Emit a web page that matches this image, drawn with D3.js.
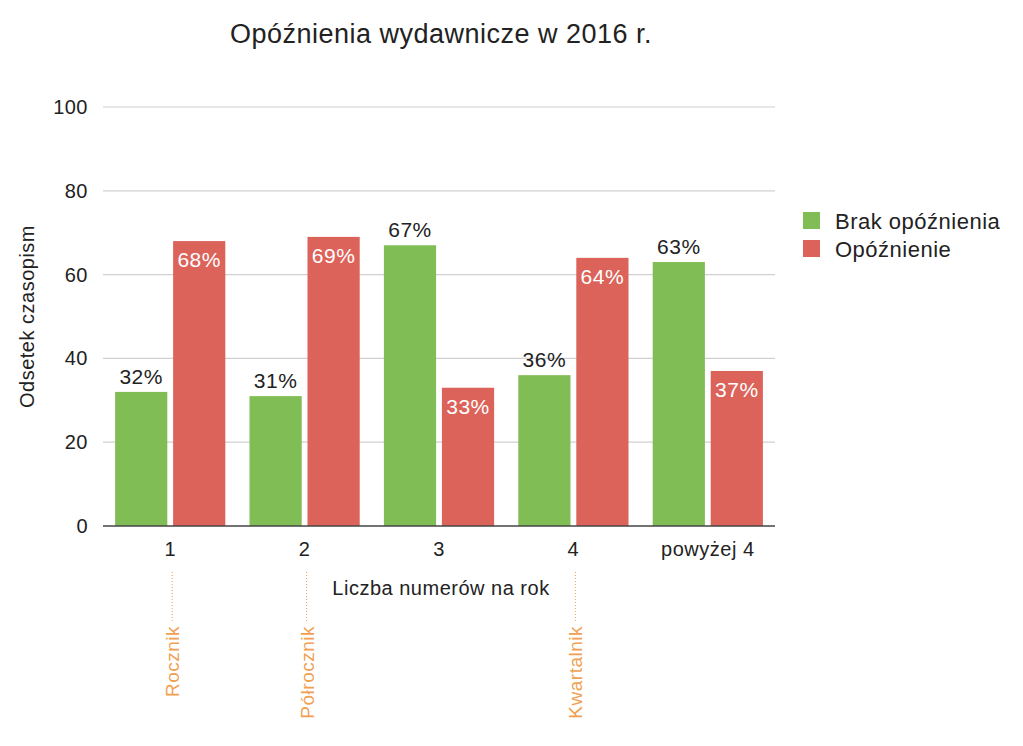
<!DOCTYPE html>
<html>
<head>
<meta charset="UTF-8">
<title>Opóźnienia wydawnicze w 2016 r.</title>
<script src="https://d3js.org/d3.v7.min.js"></script>
<style>
  body { margin: 0; background: #fff; }
  text { font-family: "Liberation Sans", Arial, sans-serif; fill: #222; letter-spacing: 0.5px; }
  .grid line { stroke: #d0d0d0; stroke-width: 1.2px; }
  .note { fill: #f0a050; }
</style>
</head>
<body>
<div id="chart"></div>
<script>
// dane
const categories = ["1", "2", "3", "4", "powyżej 4"];
const seriesNames = ["Brak opóźnienia", "Opóźnienie"];
const brakOpoznienia = [32, 31, 67, 36, 63];
const opoznienie = [68, 69, 33, 64, 37];
const yTicks = [0, 20, 40, 60, 80, 100];
const notes = [{ cat: "1", text: "Rocznik" }, { cat: "2", text: "Półrocznik" }, { cat: "4", text: "Kwartalnik" }];

const colors = ["#80bd54", "#dc635a"];
const W = 1023, H = 746;
const margin = { top: 107, left: 103, right: 248, bottom: 220 };
const width = W - margin.left - margin.right,
      height = H - margin.top - margin.bottom;

const svg = d3.select("#chart").append("svg")
  .attr("width", W).attr("height", H);

const g = svg.append("g")
  .attr("transform", "translate(" + margin.left + "," + margin.top + ")");

const x0 = d3.scaleBand().domain(categories).range([0, width]).paddingInner(0.18).paddingOuter(0.09);
const x1 = d3.scaleBand().domain(seriesNames).range([0, x0.bandwidth()]).paddingInner(0.1);
const y = d3.scaleLinear().domain([0, 100]).range([height, 0]);

// siatka
g.append("g").attr("class", "grid")
  .selectAll("line").data(yTicks.filter(d => d > 0)).enter().append("line")
  .attr("x1", 0).attr("x2", width)
  .attr("y1", d => y(d)).attr("y2", d => y(d));

g.selectAll(".ytick").data(yTicks).enter().append("text")
  .attr("x", -15).attr("y", d => y(d)).attr("dy", "0.35em")
  .style("text-anchor", "end").style("font-size", "20px")
  .text(d => d);

const data = categories.map((c, i) => ({ cat: c, values: [brakOpoznienia[i], opoznienie[i]] }));

const groups = g.selectAll(".grp").data(data).enter().append("g")
  .attr("transform", d => "translate(" + x0(d.cat) + ",0)");

groups.selectAll("rect").data(d => d.values.map((v, j) => ({ s: seriesNames[j], v: v, j: j })))
  .enter().append("rect")
  .attr("x", d => x1(d.s)).attr("width", x1.bandwidth())
  .attr("y", d => y(d.v)).attr("height", d => height - y(d.v))
  .style("fill", d => colors[d.j]);

groups.selectAll(".lbl").data(d => d.values.map((v, j) => ({ s: seriesNames[j], v: v, j: j })))
  .enter().append("text")
  .attr("x", d => x1(d.s) + x1.bandwidth() / 2)
  .attr("y", d => d.j === 0 ? y(d.v) - 8 : y(d.v) + 26)
  .style("text-anchor", "middle").style("font-size", "21px")
  .style("fill", d => d.j === 0 ? "#222" : "#fff")
  .text(d => d.v + "%");

// os x
g.append("line").attr("x1", 0).attr("x2", width).attr("y1", height).attr("y2", height)
  .style("stroke", "#444").style("stroke-width", 1.5);

g.selectAll(".xtick").data(categories).enter().append("text")
  .attr("x", d => x0(d) + x0.bandwidth() / 2).attr("y", height + 30)
  .style("text-anchor", "middle").style("font-size", "20px")
  .text(d => d);

g.append("text").attr("x", width / 2 + 2).attr("y", height + 69)
  .style("text-anchor", "middle").style("font-size", "20px")
  .text("Liczba numerów na rok");

svg.append("text")
  .attr("transform", "translate(34," + (margin.top + height / 2) + ") rotate(-90)")
  .style("text-anchor", "middle").style("font-size", "20px")
  .text("Odsetek czasopism");

svg.append("text").attr("x", 441).attr("y", 43)
  .style("text-anchor", "middle").style("font-size", "27px")
  .text("Opóźnienia wydawnicze w 2016 r.");

// legenda
const leg = svg.append("g").attr("transform", "translate(803,212)");
seriesNames.forEach((s, i) => {
  leg.append("rect").attr("x", 0).attr("y", i * 28).attr("width", 17).attr("height", 17)
    .style("fill", colors[i]);
  leg.append("text").attr("x", 32).attr("y", i * 28 + 9).attr("dy", "0.35em")
    .style("font-size", "22px").text(s);
});

// adnotacje
notes.forEach(n => {
  const cx = margin.left + x0(n.cat) + x0.bandwidth() / 2 + 2;
  svg.append("line").attr("x1", cx).attr("x2", cx).attr("y1", 572).attr("y2", 622)
    .style("stroke", "#f0a050").style("stroke-width", 1).style("stroke-dasharray", "1,2");
  svg.append("text").attr("class", "note")
    .attr("transform", "translate(" + (cx + 7) + ",626) rotate(-90)")
    .style("text-anchor", "end").style("font-size", "19px")
    .text(n.text);
});
</script>
</body>
</html>
